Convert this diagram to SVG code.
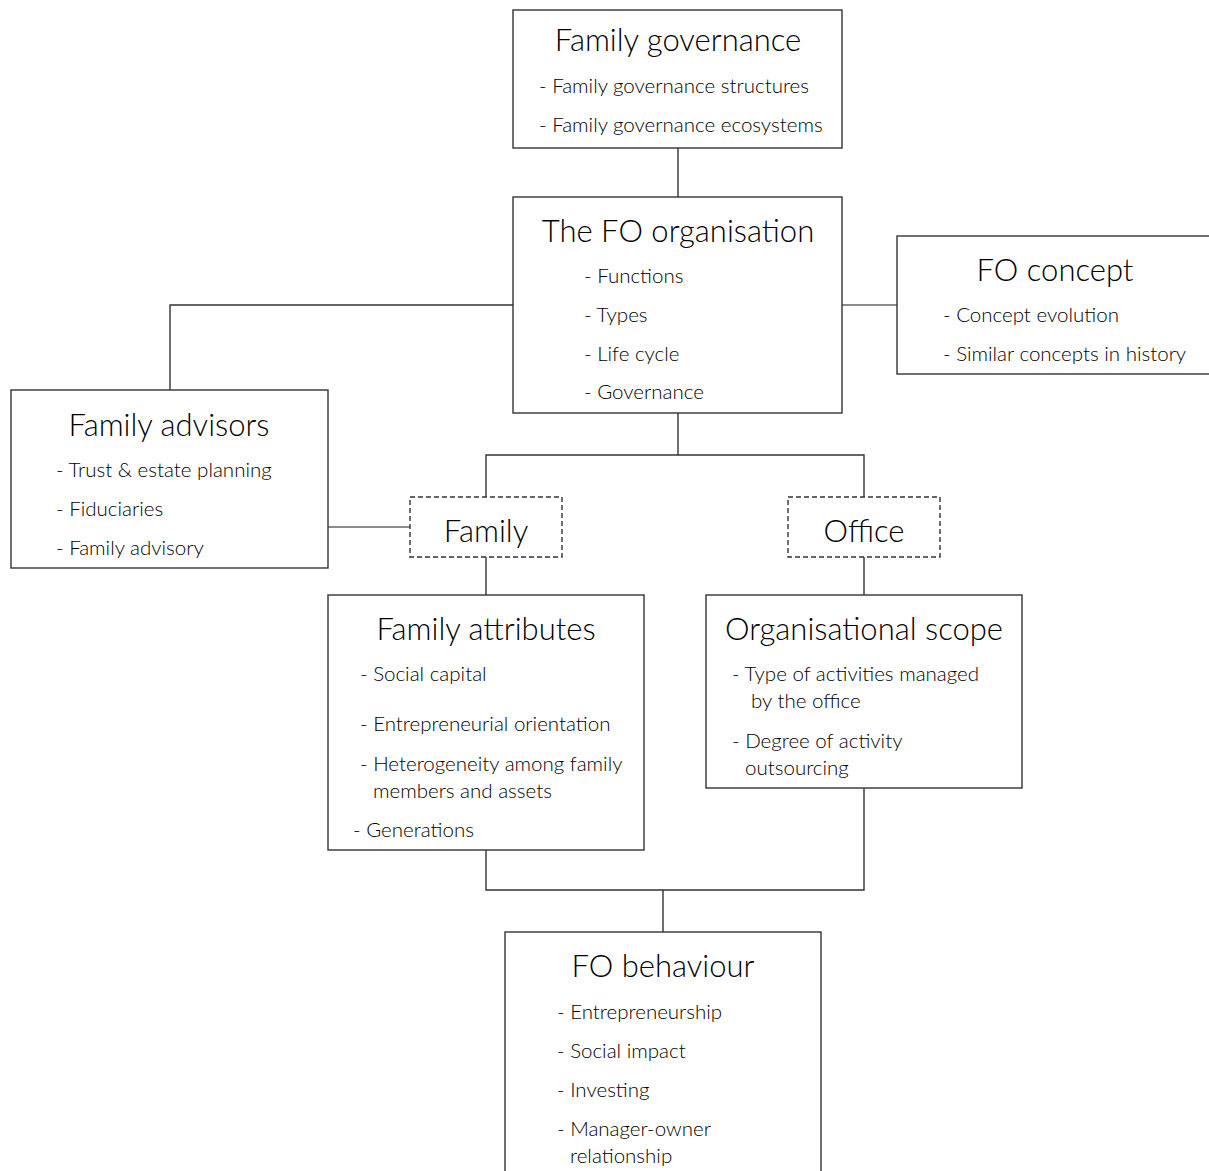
<svg xmlns="http://www.w3.org/2000/svg" width="1209" height="1171" viewBox="0 0 1209 1171">
<style>
.box{fill:#fff;stroke:#333;stroke-width:1.4}
.dash{fill:#fff;stroke:#333;stroke-width:1.4;stroke-dasharray:5 3}
.ln{fill:none;stroke:#333;stroke-width:1.4}
.lg{fill:none;stroke:#666;stroke-width:1.4}
text{font-family:"Lato","Open Sans","Liberation Sans",sans-serif;fill:#000}
.t{font-size:31px;font-weight:300;text-anchor:middle}
.i{font-size:20.5px;font-weight:300}
</style>
<rect width="1209" height="1171" fill="#fff"/>
<g id="connectors">
<path class="ln" d="M678 148V197"/>
<path class="ln" d="M513 305H170V390"/>
<path class="lg" d="M842 305H897"/>
<path class="ln" d="M678 413V455M486 497V455H864V497"/>
<path class="lg" d="M328 527H410"/>
<path class="ln" d="M486 557V595M864 557V595"/>
<path class="ln" d="M486 850V890H864V788M663 890V932"/>
</g>
<g id="family-governance">
<rect class="box" x="513" y="10" width="329" height="138"/>
<text class="t" x="678" y="51">Family governance</text>
<text class="i" x="539" y="93">- Family governance structures</text>
<text class="i" x="539" y="132">- Family governance ecosystems</text>
</g>
<g id="fo-organisation">
<rect class="box" x="513" y="197" width="329" height="216"/>
<text class="t" x="678" y="242">The FO organisation</text>
<text class="i" x="584" y="283">- Functions</text>
<text class="i" x="584" y="322">- Types</text>
<text class="i" x="584" y="361">- Life cycle</text>
<text class="i" x="584" y="399">- Governance</text>
</g>
<g id="fo-concept">
<rect class="box" x="897" y="236" width="330" height="138"/>
<text class="t" x="1055" y="281">FO concept</text>
<text class="i" x="943" y="322">- Concept evolution</text>
<text class="i" x="943" y="361">- Similar concepts in history</text>
</g>
<g id="family-advisors">
<rect class="box" x="11" y="390" width="317" height="178"/>
<text class="t" x="169" y="436">Family advisors</text>
<text class="i" x="56" y="477">- Trust &amp; estate planning</text>
<text class="i" x="56" y="516">- Fiduciaries</text>
<text class="i" x="56" y="555">- Family advisory</text>
</g>
<g id="family">
<rect class="dash" x="410" y="497" width="152" height="60"/>
<text class="t" x="486" y="542">Family</text>
</g>
<g id="office">
<rect class="dash" x="788" y="497" width="152" height="60"/>
<text class="t" x="864" y="542">Office</text>
</g>
<g id="family-attributes">
<rect class="box" x="328" y="595" width="316" height="255"/>
<text class="t" x="486" y="640">Family attributes</text>
<text class="i" x="360" y="681">- Social capital</text>
<text class="i" x="360" y="731">- Entrepreneurial orientation</text>
<text class="i" x="360" y="771">- Heterogeneity among family</text>
<text class="i" x="373" y="798">members and assets</text>
<text class="i" x="353" y="837">- Generations</text>
</g>
<g id="organisational-scope">
<rect class="box" x="706" y="595" width="316" height="193"/>
<text class="t" x="864" y="640">Organisational scope</text>
<text class="i" x="732" y="681">- Type of activities managed</text>
<text class="i" x="751" y="708">by the office</text>
<text class="i" x="732" y="748">- Degree of activity</text>
<text class="i" x="745" y="775">outsourcing</text>
</g>
<g id="fo-behaviour">
<rect class="box" x="505" y="932" width="316" height="260"/>
<text class="t" x="663" y="977">FO behaviour</text>
<text class="i" x="557" y="1019">- Entrepreneurship</text>
<text class="i" x="557" y="1058">- Social impact</text>
<text class="i" x="557" y="1097">- Investing</text>
<text class="i" x="557" y="1136">- Manager-owner</text>
<text class="i" x="570" y="1163">relationship</text>
</g>
</svg>
